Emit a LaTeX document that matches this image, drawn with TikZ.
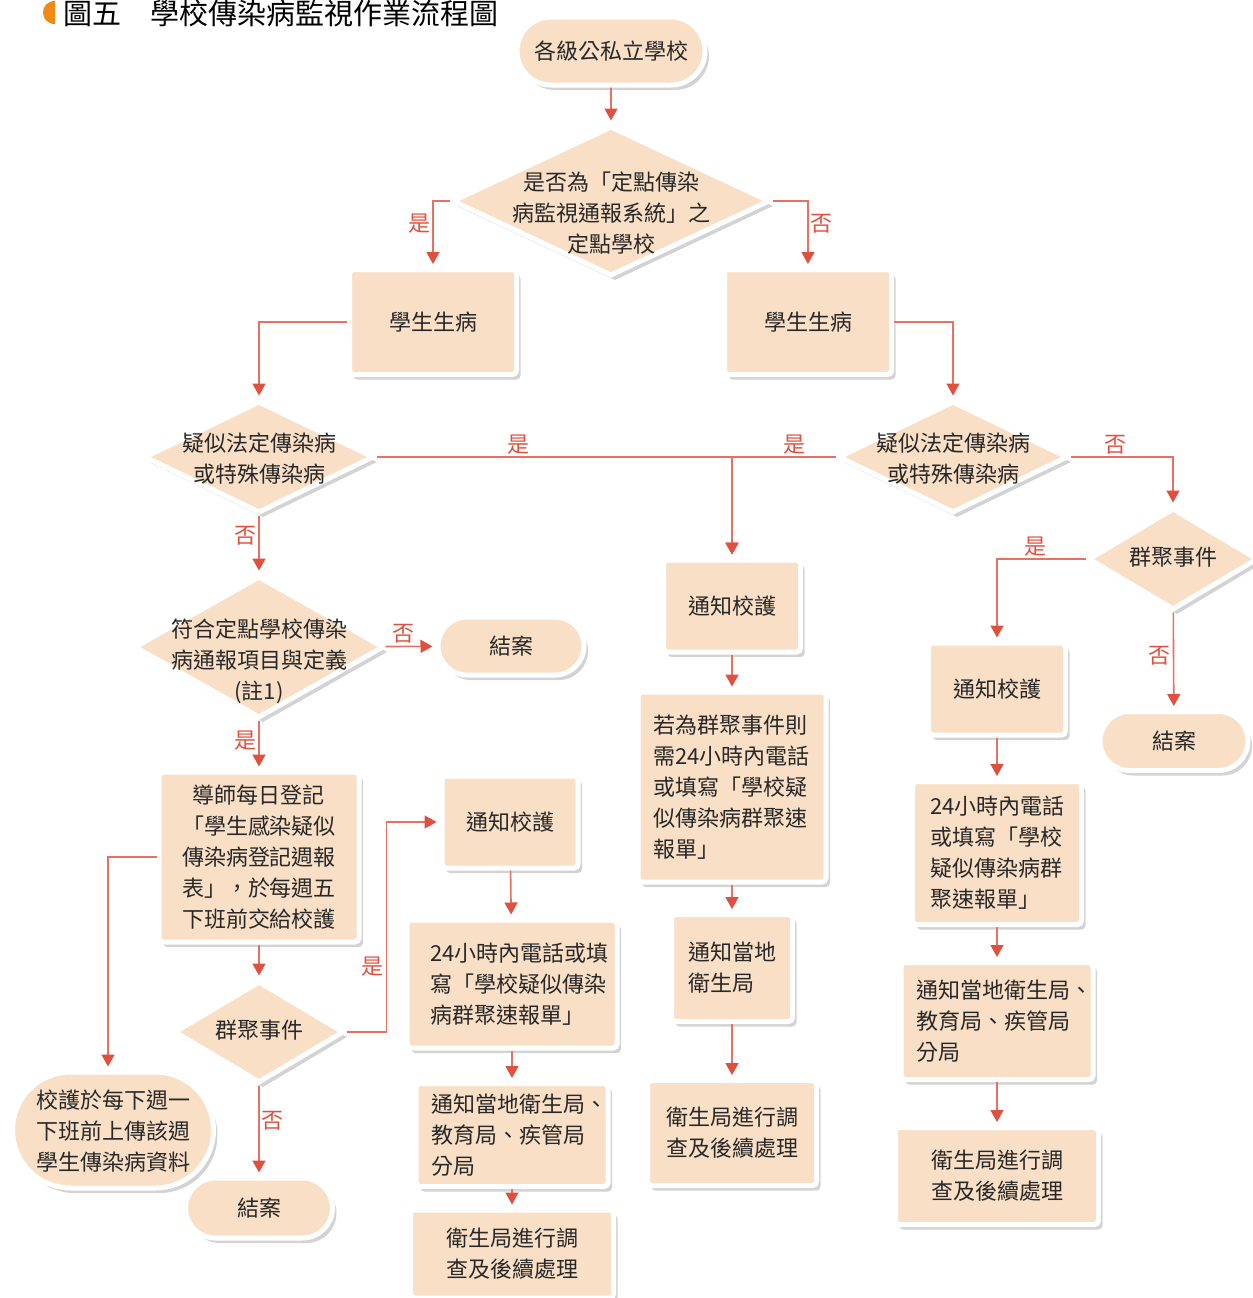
\documentclass[tikz,border=0pt]{standalone}
\usepackage{fontspec}
\setmainfont{Noto Sans CJK TC}
\usetikzlibrary{arrows.meta,positioning,shapes.geometric,shapes.misc,shadows}

\definecolor{fyll}{RGB}{248,223,198}
\definecolor{rod}{RGB}{224,80,62}
\definecolor{linje}{RGB}{232,112,98}
\definecolor{tekst}{RGB}{40,40,40}
\definecolor{titel}{RGB}{240,138,20}

\newcommand\tekstfont{\fontsize{11}{15.5}\selectfont}
% text that does not widen the shape
\newcommand\rtekst[2][-4.5pt]{\smash{\raisebox{#1}{\makebox[0pt]{\begin{tabular}{@{}c@{}}#2\end{tabular}}}}}

\tikzset{
    %Define standard arrow tip
    >={Triangle[length=6pt,width=6.5pt,color=rod]},
    %Define style for boxes
    boks/.style={
           rectangle,
           rounded corners=2pt,
           fill=fyll, draw=white, line width=2.5pt,
           drop shadow={shadow xshift=2pt,shadow yshift=-2.5pt,opacity=.35},
           text=tekst, font=\tekstfont,
           inner sep=0pt},
    rute/.style={
           diamond,
           fill=fyll, draw=white, line width=2.5pt,
           drop shadow={shadow xshift=2pt,shadow yshift=-2.5pt,opacity=.35},
           text=tekst, font=\tekstfont,
           inner sep=0pt},
    kapsel/.style={
           rounded rectangle,
           fill=fyll, draw=white, line width=2.5pt,
           drop shadow={shadow xshift=2pt,shadow yshift=-2.5pt,opacity=.35},
           text=tekst, font=\tekstfont,
           inner sep=0pt},
    % Define arrow style
    pil/.style={
           ->,
           draw=linje, line width=0.8pt,
           shorten >=1.5pt},
    svar/.style={
           text=rod, font=\tekstfont,
           inner sep=1pt}
}

\begin{document}
\begin{tikzpicture}[x=0.5pt,y=-0.5pt]
\useasboundingbox (0,0) rectangle (1253,1298);

 %title
\fill[titel] (55,1) .. controls (39,1) and (39,24) .. (55,24) -- cycle;
\node[anchor=west, inner sep=0pt, font=\fontsize{14.5}{16}\selectfont] (0) at (63,13) {圖五　學校傳染病監視作業流程圖};

 %nodes
\node[kapsel, minimum width=94pt, minimum height=34pt] (1) at (611,51) {各級公私立學校};
\node[rute, minimum width=159pt, minimum height=75pt] (2) at (611,201) {\rtekst[-9.7pt]{是否為「定點傳染\\病監視通報系統」之\\定點學校}};
\node[boks, minimum width=83.5pt, minimum height=52.5pt] (3) at (433,322) {學生生病};
\node[boks, minimum width=83.5pt, minimum height=52.5pt] (4) at (808,322) {學生生病};
\node[rute, minimum width=115pt, minimum height=56pt] (5) at (259,457) {\rtekst{疑似法定傳染病\\或特殊傳染病}};
\node[rute, minimum width=115pt, minimum height=56pt] (6) at (953,457) {\rtekst{疑似法定傳染病\\或特殊傳染病}};

\node[boks, minimum width=68.5pt, minimum height=46pt] (7) at (732,606) {通知校護};
\node[boks, minimum width=94pt, minimum height=95pt, text width=79pt, align=left] (8) at (732,787) {若為群聚事件則\\需24小時內電話\\或填寫「學校疑\\似傳染病群聚速\\報單」};
\node[boks, minimum width=60.5pt, minimum height=53.5pt, text width=44pt, align=left] (9) at (732,968) {通知當地\\衛生局};
\node[boks, minimum width=84.5pt, minimum height=52.5pt, align=center] (10) at (732,1133) {衛生局進行調\\查及後續處理};

\node[rute, minimum width=85pt, minimum height=51pt] (11) at (1173,559) {\rtekst[-3pt]{群聚事件}};
\node[boks, minimum width=68.5pt, minimum height=46pt] (12) at (997,689) {通知校護};
\node[kapsel, minimum width=74pt, minimum height=29.5pt] (13) at (1174,741) {結案};
\node[boks, minimum width=84.5pt, minimum height=71.5pt, text width=67pt, align=left] (14) at (997,853) {24小時內電話\\或填寫「學校\\疑似傳染病群\\聚速報單」};
\node[boks, minimum width=96pt, minimum height=58.5pt, text width=81pt, align=left] (15) at (997,1021) {通知當地衛生局、\\教育局、疾管局\\分局};
\node[boks, minimum width=101.5pt, minimum height=48.5pt, align=center] (16) at (997,1176) {衛生局進行調\\查及後續處理};

\node[rute, minimum width=125pt, minimum height=71pt] (17) at (259,647) {\rtekst[-10.5pt]{符合定點學校傳染\\病通報項目與定義\\(註1)}};
\node[kapsel, minimum width=73pt, minimum height=29pt] (18) at (511,646) {結案};
\node[boks, minimum width=100pt, minimum height=85pt, align=center] (19) at (259,857) {導師每日登記\\「學生感染疑似\\傳染病登記週報\\表」，於每週五\\下班前交給校護};
\node[kapsel, minimum width=100.5pt, minimum height=58pt] (20) at (113,1130) {\rtekst{校護於每下週一\\下班前上傳該週\\學生傳染病資料}};
\node[rute, minimum width=85pt, minimum height=51pt] (21) at (259,1032) {\rtekst[-3pt]{群聚事件}};
\node[kapsel, minimum width=73.5pt, minimum height=30pt] (26) at (259,1208) {結案};

\node[boks, minimum width=68pt, minimum height=46pt] (22) at (510,822) {通知校護};
\node[boks, minimum width=105pt, minimum height=64pt, text width=82pt, align=left] (23) at (512,984) {24小時內電話或填\\寫「學校疑似傳染\\病群聚速報單」};
\node[boks, minimum width=96pt, minimum height=51.5pt, text width=81pt, align=left] (24) at (512,1135) {通知當地衛生局、\\教育局、疾管局\\分局};
\node[boks, minimum width=101.5pt, minimum height=44pt, align=center] (25) at (512,1254) {衛生局進行調\\查及後續處理};

 %connectors
\path[pil]
    (1) edge (2)
    (7) edge (8)
    (8) edge (9)
    (9) edge (10)
    (12) edge (14)
    (14) edge (15)
    (15) edge (16)
    (19) edge (21)
    (22) edge (23)
    (23) edge (24)
    (24) edge (25)
    (11) edge node[svar, left, pos=.45] {否} (13)
    (5) edge node[svar, left, pos=.35] {否} (17)
    (17) edge node[svar, above, pos=.35] {否} (18)
    (17) edge node[svar, left, pos=.42] {是} (19)
    (21) edge node[svar, right, pos=.39] {否} (26);

\draw[pil] (2.west) -| node[svar, left, pos=.67] {是} (3.north);
\draw[pil] (2.east) -| node[svar, right, pos=.67] {否} (4.north);
\draw[pil] (3.west) -| (5.north);
\draw[pil] (4.east) -| (6.north);
\draw[pil] (5.east) -| node[svar, above, pos=.2] {是} (7.north);
\draw[pil] (6.west) -| node[svar, above, pos=.2] {是} (7.north);
\draw[pil] (6.east) -| node[svar, above, pos=.22] {否} (11.north);
\draw[pil] (11.west) -| node[svar, above, pos=.285] {是} (12.north);
\draw[pil] (19.west) -| ([xshift=-2.5]20.north);
\draw[pil] (21.east) -- ++(40,0) |- node[svar, left, pos=.155] {是} (22.west);

\end{tikzpicture}
\end{document}
